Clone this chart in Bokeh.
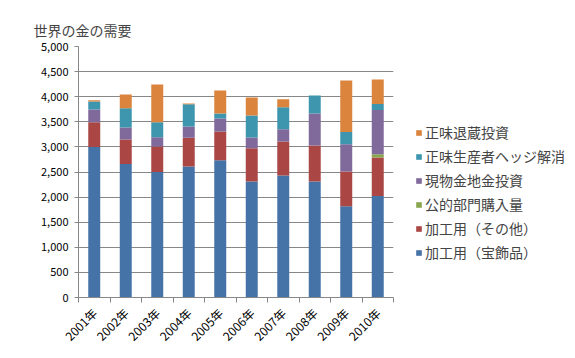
import math
from bokeh.plotting import figure
from bokeh.models import (ColumnDataSource, FixedTicker, NumeralTickFormatter,
                          Legend, LegendItem, Range1d)
from bokeh.embed import file_html
from bokeh.resources import INLINE

years = ["2001年", "2002年", "2003年", "2004年", "2005年",
         "2006年", "2007年", "2008年", "2009年", "2010年"]
series_names = ["加工用（宝飾品）", "加工用（その他）", "公的部門購入量",
                "現物金地金投資", "正味生産者ヘッジ解消", "正味退蔵投資"]
jewelry = [3000, 2660, 2500, 2610, 2735, 2310, 2430, 2310, 1820, 2020]
other_fab = [490, 485, 510, 570, 570, 665, 680, 720, 690, 770]
official = [0, 0, 0, 0, 0, 0, 0, 0, 0, 65]
bar_coin = [255, 240, 180, 225, 260, 210, 240, 635, 545, 880]
dehedging = [160, 385, 300, 445, 100, 440, 440, 360, 240, 120]
etf = [25, 275, 755, 15, 460, 360, 160, 0, 1030, 490]
y_ticks = list(range(0, 5001, 500))

colors = ["#4572A7", "#AA4643", "#89A54E", "#80699B", "#3D96AE", "#DB843D"]
keys = ["jewelry", "other_fab", "official", "bar_coin", "dehedging", "etf"]

pos = list(range(1, len(years) + 1))
source = ColumnDataSource(dict(x=pos, jewelry=jewelry, other_fab=other_fab,
                               official=official, bar_coin=bar_coin,
                               dehedging=dehedging, etf=etf))

FONT = "Noto Sans CJK JP"
GRID = "#878787"

p = figure(frame_width=315, frame_height=251, x_range=Range1d(0.5, len(years) + 0.5),
           y_range=Range1d(0, 5000), output_backend="svg", toolbar_location=None,
           min_border_left=78, min_border_right=0, min_border_top=46,
           min_border_bottom=52)
p.outline_line_color = None
p.background_fill_color = "white"

renderers = p.vbar_stack(keys, x="x", width=0.38, source=source,
                         color=colors, line_color=None)

p.xgrid.grid_line_color = None
p.ygrid.grid_line_color = GRID
p.ygrid.ticker = FixedTicker(ticks=y_ticks)

p.yaxis.ticker = FixedTicker(ticks=y_ticks)
p.yaxis.formatter = NumeralTickFormatter(format="0,0")
p.yaxis.axis_line_color = GRID
p.yaxis.major_tick_line_color = GRID
p.yaxis.major_tick_out = 4
p.yaxis.major_tick_in = 0
p.yaxis.minor_tick_line_color = None
p.yaxis.major_label_text_font = FONT
p.yaxis.major_label_text_font_size = "11px"
p.yaxis.major_label_text_color = "#000000"
p.yaxis.major_label_standoff = 6

p.xaxis.ticker = FixedTicker(ticks=pos, minor_ticks=[i + 0.5 for i in range(len(years) + 1)])
p.xaxis.major_label_overrides = {i: lab for i, lab in zip(pos, years)}
p.xaxis.major_label_orientation = math.pi / 4
p.xaxis.major_tick_line_color = None
p.xaxis.minor_tick_line_color = GRID
p.xaxis.minor_tick_out = 5
p.xaxis.minor_tick_in = 0
p.xaxis.axis_line_color = GRID
p.xaxis.major_label_text_font = FONT
p.xaxis.major_label_text_font_size = "12px"
p.xaxis.major_label_text_color = "#000000"
p.xaxis.major_label_standoff = 7

p.title.text = "世界の金の需要"
p.title.text_font = FONT
p.title.text_font_size = "14px"
p.title.text_font_style = "normal"
p.title.align = "left"
p.title.offset = -45
p.title.standoff = 10
p.title.vertical_align = "top"

items = [LegendItem(label=name, renderers=[r])
         for name, r in zip(series_names, renderers)][::-1]
legend = Legend(items=items, location=(22, 35), border_line_color=None,
                background_fill_alpha=0, label_text_font=FONT,
                label_text_font_size="14px", glyph_width=7, glyph_height=7,
                label_height=14, spacing=4, padding=0, margin=0,
                label_standoff=3)
p.add_layout(legend, "right")

open("out.html", "w").write(file_html(p, INLINE))
